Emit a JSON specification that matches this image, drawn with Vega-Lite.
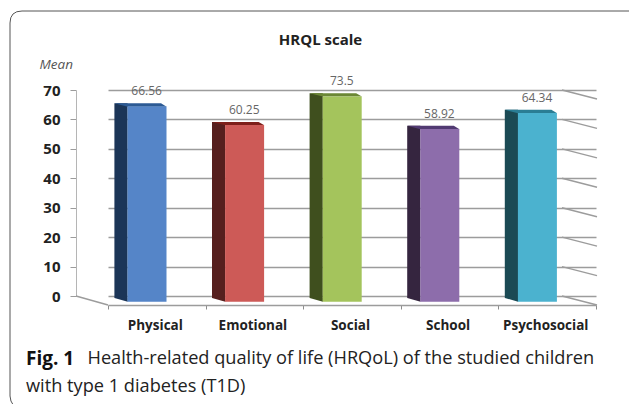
{
 "$schema":"https://vega.github.io/schema/vega-lite/v6.json",
 "width":486,"height":206,"autosize":"none",
 "padding":{"left":76,"top":90,"right":67,"bottom":108},
 "background":"white",
 "config":{"view":{"stroke":null},
  "axisX":{"offset":9,"domainColor":"#9c9c9c","domainWidth":1.4,"tickColor":"#8c8c8c","tickSize":4,"tickBand":"extent","labelAngle":0,"labelPadding":9,"labelOffset":-2,"labelFont":"Open Sans","labelFontSize":13.5,"labelFontWeight":"bold","labelColor":"#222","grid":false},
  "axisY":{"tickCount":7,"labelOverlap":false,"grid":true,"gridColor":"#9c9c9c","gridWidth":1.4,"domainColor":"#b5b5b5","domainWidth":1,"tickColor":"#9c9c9c","tickSize":6,"labelPadding":10,"labelFont":"Open Sans","labelFontSize":15,"labelFontWeight":"bold","labelColor":"#222",
       "titleAngle":0,"titleX":-37,"titleY":-26,"titleAlign":"left","titleBaseline":"middle","titleFont":"Open Sans","titleFontSize":13.5,"titleFontStyle":"italic","titleFontWeight":"normal","titleColor":"#555"}
 },
 "datasets":{
  "bars":[
   {"scale":"Physical","mean":66.56},
   {"scale":"Emotional","mean":60.25},
   {"scale":"Social","mean":73.5},
   {"scale":"School","mean":58.92},
   {"scale":"Psychosocial","mean":64.34}],
  "ticks":[{"tick":0},{"tick":10},{"tick":20},{"tick":30},{"tick":40},{"tick":50},{"tick":60},{"tick":70}]
 },
 "resolve":{"scale":{"color":"independent"}},
 "layer":[
  {"data":{"name":"ticks"},
   "mark":{"type":"point","shape":"M14.8 0 L49.8 9","size":4,"filled":false,"stroke":"#9c9c9c","strokeWidth":1.4,"opacity":1},
   "encoding":{
    "x":{"datum":"Psychosocial","type":"nominal",
      "scale":{"domain":["Physical","Emotional","Social","School","Psychosocial"],"range":[32,520],"paddingInner":0,"paddingOuter":0},
      "title":null},
    "y":{"field":"tick","type":"quantitative",
      "scale":{"domain":[0,70],"nice":false,"clamp":true},
      "title":"Mean"}
   }},
  {"data":{"values":[{"k":1}]},
   "mark":{"type":"point","shape":"M-80.8 0 L-48.8 9","size":4,"filled":false,"stroke":"#9c9c9c","strokeWidth":1.4,"opacity":1},
   "encoding":{"x":{"datum":"Physical","type":"nominal","title":null},"y":{"datum":0,"type":"quantitative","title":"Mean"}}},
  {"data":{"values":[{"k":1}]},
   "mark":{"type":"point","shape":"M483 -285 L-134.8 -285 Q-146.8 -285 -146.8 -273 L-146.8 100 Q-146.8 105 -143 110","size":4,"filled":false,"stroke":"#555555","strokeWidth":1,"opacity":1},
   "encoding":{"x":{"datum":"Physical","type":"nominal","title":null},"y":{"datum":0,"type":"quantitative","title":"Mean"}}},
  {"data":{"name":"bars"},
   "mark":{"type":"bar","size":13.2,"xOffset":-35.8,"yOffset":3.2,"y2Offset":2},
   "encoding":{"x":{"field":"scale","type":"nominal","title":null},"y":{"field":"mean","type":"quantitative","stack":null,"title":"Mean"},"y2":{"datum":0},
    "color":{"field":"scale","type":"nominal","legend":null,"scale":{"domain":["Physical","Emotional","Social","School","Psychosocial"],"range":["#1b3557","#561f1e","#3f4f1e","#35253f","#1b4a54"]}}}},
  {"data":{"name":"bars"},
   "mark":{"type":"point","shape":"M-42.3 2 L-29.1 2 L-29.1 5.7 Z","size":4,"filled":true,"strokeWidth":0,"opacity":1},
   "encoding":{"x":{"field":"scale","type":"nominal","title":null},"y":{"datum":0,"type":"quantitative","title":"Mean"},
    "color":{"field":"scale","type":"nominal","legend":null,"scale":{"domain":["Physical","Emotional","Social","School","Psychosocial"],"range":["#1b3557","#561f1e","#3f4f1e","#35253f","#1b4a54"]}}}},
  {"data":{"name":"bars"},
   "mark":{"type":"point","shape":"M-42.3 3.2 L4.2 3.2 L9.9 6.6 L-29.1 6.6 Z","size":4,"filled":true,"strokeWidth":0,"opacity":1},
   "encoding":{"x":{"field":"scale","type":"nominal","title":null},"y":{"field":"mean","type":"quantitative","title":"Mean"},
    "color":{"field":"scale","type":"nominal","legend":null,"scale":{"domain":["Physical","Emotional","Social","School","Psychosocial"],"range":["#2c5a94","#7d1f1a","#6b8735","#513a72","#2a7d94"]}}}},
  {"data":{"name":"bars"},
   "mark":{"type":"bar","size":39,"xOffset":-9.8,"yOffset":6.4,"y2Offset":5.7},
   "encoding":{"x":{"field":"scale","type":"nominal","title":null},"y":{"field":"mean","type":"quantitative","stack":null,"title":"Mean"},"y2":{"datum":0},
    "color":{"field":"scale","type":"nominal","legend":null,"scale":{"domain":["Physical","Emotional","Social","School","Psychosocial"],"range":["#5585c8","#cd5a57","#a4c45c","#8d6dab","#4bb2cf"]}}}},
  {"data":{"name":"bars"},
   "mark":{"type":"text","dy":-8.7,"xOffset":-10.2,"font":"Open Sans","fontSize":12,"color":"#666"},
   "encoding":{"x":{"field":"scale","type":"nominal","title":null},"y":{"field":"mean","type":"quantitative","title":"Mean"},"text":{"field":"mean","type":"nominal"}}},
  {"data":{"values":[{"caption":"HRQL scale"}]},
   "mark":{"type":"text","align":"center","baseline":"middle","xOffset":-31.5,"yOffset":-50,"font":"Open Sans","fontSize":15,"fontWeight":"bold","color":"#222"},
   "encoding":{"x":{"datum":"Social","type":"nominal","title":null},"y":{"datum":70,"type":"quantitative","title":"Mean"},"text":{"field":"caption"}}},
  {"data":{"values":[{"caption":"Fig. 1"}]},
   "mark":{"type":"text","align":"left","baseline":"middle","xOffset":-130.8,"yOffset":63,"font":"Open Sans","fontSize":19,"fontWeight":"bold","color":"#111"},
   "encoding":{"x":{"datum":"Physical","type":"nominal","title":null},"y":{"datum":0,"type":"quantitative","title":"Mean"},"text":{"field":"caption"}}},
  {"data":{"values":[{"caption":"Health-related quality of life (HRQoL) of the studied children"}]},
   "mark":{"type":"text","align":"left","baseline":"middle","xOffset":-69.3,"yOffset":63,"font":"Open Sans","fontSize":18.2,"color":"#222"},
   "encoding":{"x":{"datum":"Physical","type":"nominal","title":null},"y":{"datum":0,"type":"quantitative","title":"Mean"},"text":{"field":"caption"}}},
  {"data":{"values":[{"caption":"with type 1 diabetes (T1D)"}]},
   "mark":{"type":"text","align":"left","baseline":"middle","xOffset":-130.8,"yOffset":91,"font":"Open Sans","fontSize":18.2,"color":"#222"},
   "encoding":{"x":{"datum":"Physical","type":"nominal","title":null},"y":{"datum":0,"type":"quantitative","title":"Mean"},"text":{"field":"caption"}}}
 ]
}
